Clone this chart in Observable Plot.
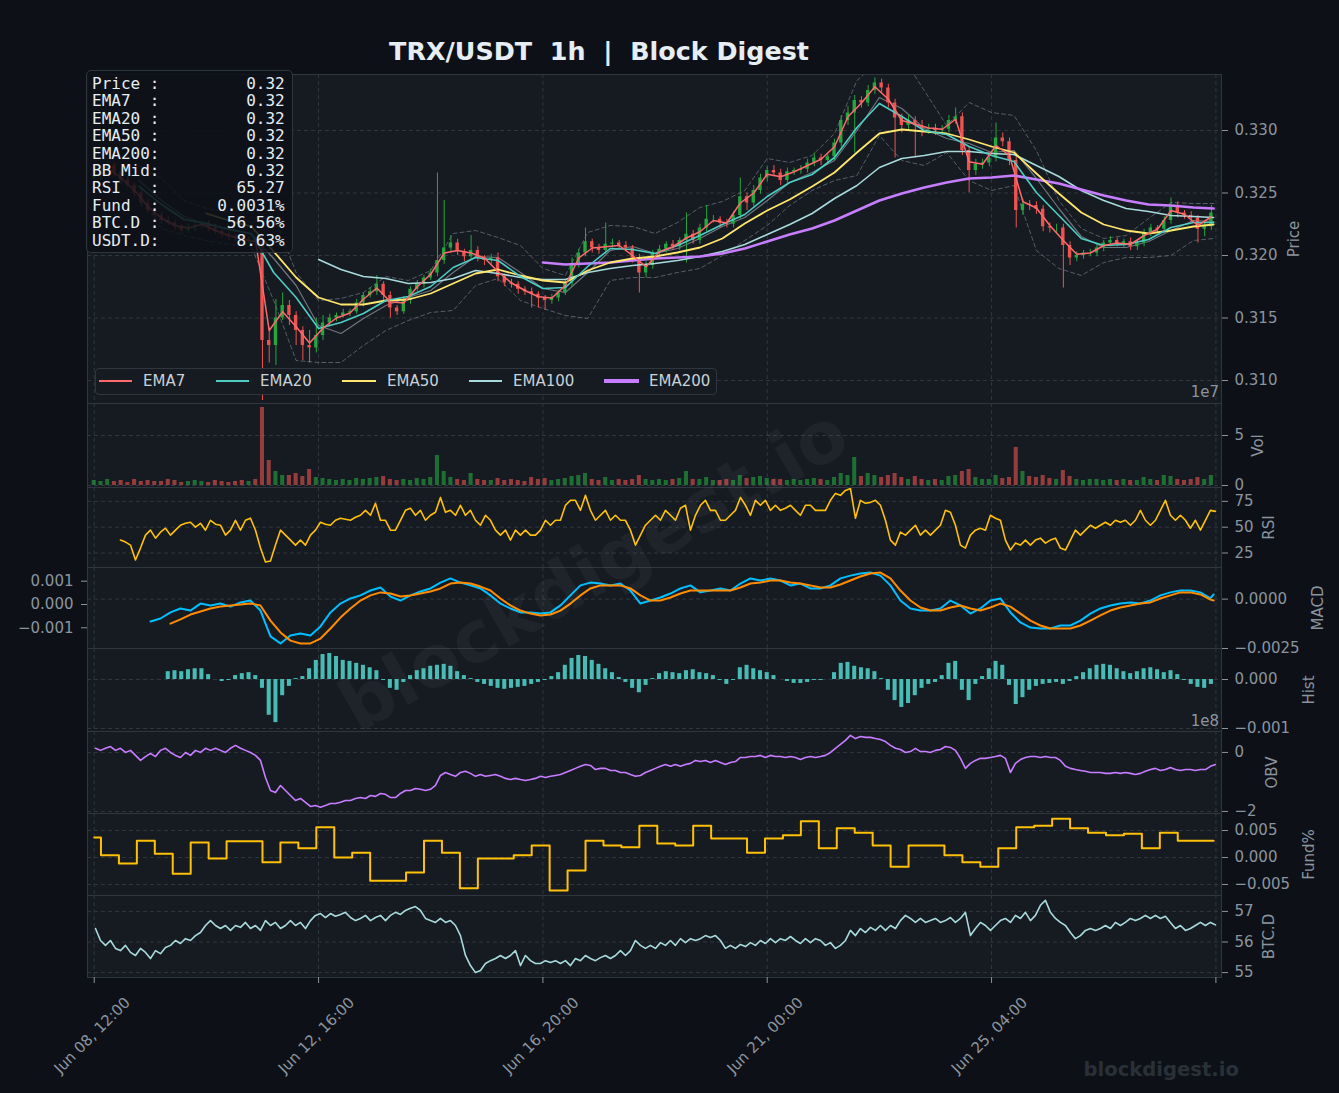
<!DOCTYPE html>
<html><head><meta charset="utf-8">
<script src="https://cdn.jsdelivr.net/npm/d3@7"></script>
<script src="https://cdn.jsdelivr.net/npm/@observablehq/plot@0.6"></script>
<style>
html,body{margin:0;padding:0;background:#0d1117;}
#root{position:relative;width:1339px;height:1093px;background:#0d1117;overflow:hidden;font-family:"DejaVu Sans",sans-serif;}
.title{position:absolute;left:0;top:37px;width:1198px;text-align:center;font:bold 25.4px/29px "DejaVu Sans",sans-serif;color:#e6edf3;}
.info{position:absolute;left:86px;top:70px;width:207px;height:183px;box-sizing:border-box;border:1px solid #30363d;border-radius:5px;background:rgba(13,17,23,0.86);padding:4px 0 0 5px;}
.info pre{margin:0;font:16px/17.4px "DejaVu Sans Mono",monospace;color:#e6edf3;}
.legend{position:absolute;left:95px;top:368px;width:622px;height:27px;box-sizing:border-box;border:1px solid #30363d;border-radius:4px;background:rgba(22,27,34,0.92);}
.legend .ln{position:absolute;height:2px;}
.legend .lb{position:absolute;top:5px;font:15px/15px "DejaVu Sans",sans-serif;color:#c9d1d9;white-space:nowrap;}
.offs{position:absolute;right:120px;font:15px/17px "DejaVu Sans",sans-serif;color:#8b949e;}
.wm2{position:absolute;right:100px;top:1059px;font:bold 19.6px/22px "DejaVu Sans",sans-serif;color:#2a3038;}
</style></head>
<body><div id="root"></div>
<script>
// ---------------- DATA ----------------
const xTickHours = [0, 100, 200, 300, 400, 500];
const xTickLabels = ["Jun 08, 12:00", "Jun 12, 16:00", "Jun 16, 20:00", "Jun 21, 00:00", "Jun 25, 04:00"];

// 3-hour candles (index k -> hour 3k)
const candleStepHours = 3;
const firstOpen = 0.3262;
const closes = [
0.3264,0.3270,0.3272,0.3266,0.3260,0.3256,0.3250,0.3242,0.3236,0.3232,
0.3228,0.3226,0.3223,0.3220,0.3222,0.3224,0.3226,0.3222,0.3219,0.3217,
0.3215,0.3214,0.3212,0.3213,0.3211,0.3132,0.3128,0.3150,0.3160,0.3152,
0.3140,0.3128,0.3126,0.3136,0.3146,0.3150,0.3152,0.3154,0.3155,0.3162,
0.3168,0.3171,0.3177,0.3168,0.3158,0.3155,0.3164,0.3173,0.3177,0.3182,
0.3186,0.3196,0.3206,0.3210,0.3203,0.3199,0.3204,0.3198,0.3196,0.3198,
0.3183,0.3178,0.3177,0.3173,0.3171,0.3169,0.3166,0.3164,0.3166,0.3170,
0.3178,0.3193,0.3202,0.3211,0.3206,0.3204,0.3209,0.3210,0.3208,0.3206,
0.3198,0.3186,0.3192,0.3202,0.3205,0.3209,0.3207,0.3212,0.3217,0.3212,
0.3222,0.3229,0.3229,0.3226,0.3225,0.3232,0.3247,0.3242,0.3252,0.3262,
0.3268,0.3266,0.3260,0.3267,0.3268,0.3269,0.3274,0.3278,0.3276,0.3279,
0.3290,0.3308,0.3314,0.3324,0.3322,0.3332,0.3338,0.3334,0.3322,0.3310,
0.3304,0.3308,0.3304,0.3301,0.3302,0.3300,0.3301,0.3308,0.3311,0.3284,
0.3268,0.3273,0.3274,0.3278,0.3294,0.3291,0.3276,0.3236,0.3241,0.3240,
0.3237,0.3223,0.3222,0.3222,0.3208,0.3198,0.3200,0.3202,0.3202,0.3206,
0.3210,0.3212,0.3209,0.3211,0.3207,0.3210,0.3218,0.3222,0.3221,0.3228,
0.3240,0.3234,0.3232,0.3230,0.3221,0.3223,0.3234];
// wick extensions beyond the body, in units of 0.0001
const wickUp = [
3,2,3,2,2,3,2,2,3,2, 2,3,2,2,3,2,2,2,3,2, 2,2,3,2,2,1,10,15,10,4, 3,3,12,14,6,3,2,3,2,3,
2,3,7,2,3,2,3,2,3,2, 3,70,38,6,3,2,12,3,2,3, 4,2,3,2,2,3,2,2,3,2, 3,5,3,11,2,3,17,3,2,3,
2,3,3,2,3,2,3,2,17,3, 3,11,3,2,3,3,15,3,4,3, 3,4,3,3,2,3,3,4,3,2, 3,4,5,4,3,4,4,3,3,3,
3,4,3,4,3,3,3,4,7,3, 3,4,3,3,12,4,3,3,4,3, 3,3,3,3,3,3,3,2,3,3, 2,3,2,2,3,2,3,3,2,3,
6,3,2,3,2,3,6];
const wickDn = [
2,3,2,3,3,2,3,3,2,3, 3,2,3,3,2,3,3,3,2,3, 3,3,2,3,3,48,14,16,2,8, 12,12,12,4,4,3,3,2,3,2,
3,2,3,6,8,3,2,3,2,3, 2,3,3,3,3,4,3,3,4,3, 4,3,3,4,3,11,8,8,3,3, 2,3,3,3,4,3,3,3,4,3,
4,16,4,3,3,3,3,3,18,3, 3,3,3,4,3,3,3,6,3,3, 3,3,4,3,3,3,3,3,4,3, 3,3,4,32,4,3,3,4,4,32,
6,4,26,6,4,4,4,3,3,4, 18,4,4,3,3,4,4,14,4,4, 4,4,4,4,34,6,3,3,3,3, 3,3,2,3,3,3,3,3,3,3,
3,4,3,4,11,6,3];
// volume per candle, millions
const volumes = [
5,4,6,4,5,3,6,4,5,4, 4,6,5,3,4,5,4,3,5,4, 3,4,5,4,6,78,25,14,10,10, 12,9,16,8,7,6,5,6,5,7,
6,7,8,9,6,5,6,5,7,6, 8,30,14,8,6,5,12,6,5,5, 7,5,6,5,4,8,6,7,5,6, 7,9,10,12,6,5,8,5,6,5,
6,10,6,5,6,5,6,7,14,6, 6,8,5,5,6,5,10,7,8,9, 7,6,6,5,6,5,6,7,6,5, 8,12,10,28,9,12,10,8,10,12,
8,6,9,6,5,6,5,9,10,14, 16,8,6,6,10,7,8,38,14,9, 8,10,7,6,15,9,6,5,6,6, 5,6,5,6,5,5,8,6,5,10,
9,6,5,6,8,6,10];

// EMA7 every 6 hours from hour 6
const ema7Hours = d3.range(6, 499, 6);
const ema7 = [
0.3270,0.3262,0.3252,0.3239,0.3230,0.3224,0.3222,0.3225,0.3220,0.3216,
0.3213,0.3211,0.3140,0.3155,0.3143,0.3130,0.3142,0.3150,0.3154,0.3165,
0.3174,0.3163,0.3162,0.3175,0.3185,0.3202,0.3204,0.3202,0.3198,0.3187,
0.3178,0.3172,0.3167,0.3166,0.3176,0.3198,0.3206,0.3207,0.3208,0.3200,
0.3191,0.3203,0.3207,0.3214,0.3219,0.3228,0.3226,0.3242,0.3250,0.3265,
0.3263,0.3267,0.3272,0.3277,0.3287,0.3311,0.3322,0.3335,0.3325,0.3308,
0.3305,0.3302,0.3301,0.3309,0.3275,0.3273,0.3288,0.3280,0.3243,0.3238,
0.3224,0.3212,0.3201,0.3202,0.3208,0.3210,0.3209,0.3216,0.3221,0.3236,
0.3233,0.3224,0.3231];

// slower lines every 10 hours (0..490) plus hour 499; null = not yet defined
const lineHours = d3.range(0, 500, 10).concat([499]);
const lead = (n, a) => Array(n).fill(null).concat(a);
const ema20 = lead(2, [0.32552,0.32408,0.32288,0.32256,0.32208,0.32176,0.31864,0.31664,0.31416,0.31464,0.31536,0.3164,0.31672,0.31752,0.31904,0.31984,0.3196,0.31832,0.31736,0.31744,0.31912,0.32056,0.32048,0.32016,0.3208,0.3216,0.32248,0.32328,0.32472,0.32584,0.32648,0.32784,0.33024,0.33216,0.33112,0.3300,0.32968,0.32872,0.328,0.32752,0.32504,0.3232,0.32136,0.3208,0.32088,0.32128,0.32224,0.32264,0.32264]);
const ema50 = lead(5, [0.32336,0.3228,0.32232,0.32032,0.31824,0.31664,0.31608,0.31608,0.3164,0.31648,0.31696,0.31776,0.31856,0.31888,0.3184,0.318,0.31784,0.3188,0.31944,0.31976,0.31992,0.32024,0.32064,0.32136,0.32256,0.3236,0.32448,0.32552,0.32664,0.32824,0.32976,0.33008,0.32992,0.32976,0.32928,0.32872,0.32824,0.32656,0.32496,0.32344,0.32248,0.322,0.32176,0.322,0.32232,0.32248]);
const ema100 = lead(10, [0.31968,0.31888,0.31832,0.31816,0.31776,0.31784,0.31816,0.3188,0.31856,0.31824,0.31808,0.31808,0.31864,0.31896,0.3192,0.31936,0.3196,0.31992,0.32032,0.32088,0.32168,0.32248,0.32336,0.32456,0.3256,0.32704,0.32776,0.328,0.32832,0.32832,0.32816,0.32808,0.3272,0.32632,0.3252,0.3244,0.32376,0.32352,0.3232,0.32312,0.32304]);
const ema200 = lead(20, [0.31944,0.31928,0.31936,0.31944,0.3196,0.31976,0.31984,0.31992,0.32016,0.32056,0.32112,0.32168,0.32216,0.3228,0.3236,0.3244,0.32496,0.32544,0.32584,0.32616,0.32624,0.3264,0.32608,0.32576,0.32528,0.3248,0.3244,0.32408,0.324,0.32384,0.32376]);
const bbMid = lead(2, [0.326,0.3244,0.32312,0.32248,0.32216,0.32168,0.31976,0.3176,0.3144,0.31376,0.31496,0.316,0.31664,0.3172,0.31864,0.31992,0.31984,0.31864,0.31736,0.31704,0.31864,0.3204,0.32072,0.32016,0.32056,0.32136,0.32232,0.32304,0.3244,0.32584,0.32664,0.3276,0.33,0.33264,0.33176,0.33016,0.32936,0.32896,0.32824,0.3284,0.32616,0.32376,0.32152,0.32064,0.32064,0.32112,0.322,0.3228,0.32272]);
const bbUp = lead(2, [0.3272,0.32616,0.3244,0.32376,0.32344,0.32264,0.3232,0.31864,0.3164,0.31656,0.31704,0.31832,0.318,0.3188,0.32176,0.322,0.32144,0.3208,0.31896,0.3184,0.32184,0.3224,0.32232,0.32176,0.32264,0.32384,0.32432,0.3252,0.32776,0.32744,0.328,0.32976,0.334,0.3356,0.336,0.3332,0.3304,0.33224,0.33144,0.3312,0.3284,0.3244,0.32216,0.32136,0.3216,0.32296,0.32424,0.32416,0.32416]);
const bbLow = lead(2, [0.3248,0.32216,0.3216,0.3212,0.32088,0.32072,0.3164,0.3116,0.31144,0.31144,0.3128,0.314,0.3148,0.31544,0.3156,0.3176,0.31816,0.3164,0.31576,0.3152,0.31496,0.318,0.31824,0.31824,0.31864,0.31896,0.32,0.3212,0.3224,0.324,0.3252,0.326,0.3264,0.3296,0.3276,0.3272,0.32824,0.326,0.3252,0.3256,0.3204,0.31896,0.3184,0.31944,0.31984,0.31984,0.32,0.3212,0.32136]);

// sampled oscillators: sample spacing in hours
const sampleStep = 2.2287;
const rsiStart = 11.7;
const rsi = [
37.5,35.6,32.7,18.3,29.8,42.3,47.1,39.4,45.2,49.0, 42.3,47.1,51.9,53.8,54.8,50.0,53.8,47.1,56.7,52.9,
51.9,42.3,47.1,56.7,47.1,56.7,58.7,47.1,29.8,16.3, 17.3,32.7,47.1,42.3,37.5,32.7,37.5,32.7,42.3,47.1,
54.8,52.9,51.9,56.7,58.7,57.7,56.7,59.6,61.5,66.3, 61.5,73.1,56.7,56.7,47.1,47.1,56.7,66.3,68.3,61.5,
66.3,56.7,61.5,64.4,78.8,64.4,66.3,61.5,71.2,61.5, 66.3,56.7,51.9,61.5,56.7,47.1,42.3,47.1,37.5,47.1,
42.3,47.1,42.3,42.3,47.1,56.7,51.9,56.7,56.7,71.2, 76.0,76.0,66.3,80.8,66.3,56.7,61.5,66.3,56.7,61.5,
56.7,56.7,47.1,32.7,42.3,51.9,56.7,61.5,56.7,66.3, 61.5,56.7,68.3,71.2,47.1,61.5,71.2,76.0,66.3,66.3,
56.7,56.7,61.5,66.3,78.8,71.2,61.5,76.0,71.2,76.0, 66.3,71.2,66.3,68.3,71.2,66.3,61.5,71.2,71.2,66.3,
66.3,66.3,76.0,82.7,80.8,85.6,87.5,58.7,76.0,73.1, 74.0,76.0,71.2,56.7,37.5,32.7,45.2,42.3,47.1,51.9,
42.3,47.1,42.3,47.1,51.9,66.3,64.4,51.9,32.7,29.8, 42.3,47.1,49.0,47.1,61.5,58.7,56.7,37.5,27.9,34.6,
32.7,37.5,32.7,37.5,39.4,34.6,37.5,39.4,29.8,27.9, 37.5,47.1,42.3,47.1,51.9,49.0,51.9,54.8,51.9,56.7,
54.8,56.7,51.9,56.7,66.3,56.7,51.9,56.7,66.3,76.0, 61.5,56.7,61.5,56.7,49.0,56.7,47.1,56.7,66.3,65.3];

// MACD / signal, units of 0.001, every 4.4573 h
const macdStep = 4.4573, macdStart = 25.07, signalStart = 33.99;
const macd = [
-0.73,-0.60,-0.34,-0.17,-0.26,0.04,-0.04,0.04,-0.09,0.09,0.17,-0.26,-1.37,-1.67,-1.33,-1.24,-1.33,-0.94,-0.34,0.04,
0.26,0.39,0.60,0.73,0.34,0.17,0.39,0.56,0.69,0.94,1.12,0.94,0.82,0.69,0.39,0.04,-0.17,-0.34,-0.34,-0.39,
-0.34,-0.04,0.39,0.82,0.94,0.90,0.82,0.90,0.60,0.04,0.17,0.30,0.47,0.69,0.82,0.52,0.60,0.69,0.60,0.90,
1.12,1.03,1.12,1.03,0.82,0.90,0.69,0.69,0.82,1.12,1.24,1.33,1.37,1.24,0.82,0.17,-0.17,-0.26,-0.26,-0.17,
0.17,-0.04,-0.39,-0.17,0.17,0.26,-0.34,-0.77,-0.99,-1.03,-1.03,-0.90,-0.90,-0.69,-0.39,-0.17,-0.04,0.04,0.09,0.04,
0.17,0.39,0.52,0.60,0.60,0.52,0.26];
const signal = [
-0.82,-0.64,-0.43,-0.30,-0.17,-0.09,-0.04,0,0.04,-0.04,-0.69,-1.20,-1.55,-1.67,-1.67,-1.46,-1.03,-0.56,-0.17,0.17,
0.39,0.52,0.47,0.34,0.39,0.47,0.56,0.69,0.90,0.94,0.90,0.77,0.60,0.26,-0.04,-0.26,-0.39,-0.47,-0.43,-0.26,
0.04,0.39,0.69,0.82,0.82,0.82,0.69,0.39,0.17,0.17,0.30,0.47,0.60,0.60,0.60,0.60,0.60,0.73,0.90,0.94,
1.03,1.03,0.94,0.90,0.82,0.73,0.73,0.86,1.03,1.20,1.33,1.37,1.12,0.60,0.17,-0.13,-0.26,-0.26,-0.13,-0.04,
-0.17,-0.26,-0.13,0.04,-0.09,-0.39,-0.69,-0.90,-1.03,-1.03,-1.03,-0.90,-0.69,-0.47,-0.26,-0.13,-0.04,0.04,0.09,0.26,
0.39,0.52,0.52,0.43,0.21];
const macdEnd = {h: 499, macd: 0.43, signal: 0.17};

// MACD histogram, units of 0.0001, on candle index 11..166
const histFirstIndex = 11;
const hist = [
1.6,1.8,1.6,2.0,2.2,2.2,1.0,0,-0.4,-0.2, 0.8,1.2,1.4,0.8,-1.8,-7.3,-8.8,-3.3,-1.4,0.2,
0.6,2.2,3.9,5.1,5.3,4.7,3.9,3.7,3.3,2.9, 2.4,1.8,-0.2,-1.8,-2.2,-0.6,0.8,1.8,2.2,2.7,
2.9,3.1,2.7,1.6,0.8,0.2,-0.6,-1.0,-1.4,-1.8, -2.0,-1.8,-1.6,-1.4,-1.0,-0.6,-0.2,0.6,1.4,2.9,
4.3,4.9,4.7,3.9,3.1,2.2,1.4,0.4,-0.6,-1.8, -2.7,-1.2,0.2,1.2,1.6,1.4,1.2,1.8,2.0,1.4,
1.2,0.8,-0.2,-1.0,-0.2,2.4,2.9,2.2,1.8,1.4, 0.8,0,-0.4,-0.8,-0.8,-0.6,-0.2,-0.2,0,1.4,
3.3,3.5,2.7,2.4,2.2,1.6,0.2,-2.2,-4.3,-5.7, -4.9,-3.3,-1.8,-1.0,-0.6,0.8,3.3,3.7,-2.2,-4.3,
-1.0,0.6,2.2,3.7,2.9,-1.2,-5.1,-3.7,-2.2,-1.4, -1.0,-0.8,-0.6,-1.0,-0.4,0.6,1.4,2.2,2.9,3.1,
2.9,2.2,1.6,1.2,1.6,2.2,2.4,2.0,1.4,1.8, 1.0,-0.2,-1.0,-1.6,-1.8,-1.0];

// OBV (units of 1e8) and BTC dominance, same sampling from hour 0.56
const obvStart = 0.56;
const obv = [
0.14,0.07,0.14,0.20,0.07,0.14,0,0.07,-0.10,-0.27, -0.14,-0.03,-0.14,0.07,0.14,0,-0.10,-0.17,0,-0.10,
0.07,0,0.14,0.07,0.14,0.07,0,0.14,0.24,0.14, 0.07,0,-0.10,-0.27,-0.85,-1.29,-1.36,-1.12,-1.29,-1.46,
-1.63,-1.56,-1.69,-1.83,-1.80,-1.86,-1.80,-1.73,-1.73,-1.69, -1.63,-1.63,-1.56,-1.53,-1.56,-1.46,-1.49,-1.39,-1.42,-1.53,
-1.53,-1.39,-1.29,-1.29,-1.22,-1.25,-1.29,-1.25,-1.12,-0.78, -0.68,-0.75,-0.81,-0.68,-0.64,-0.71,-0.81,-0.75,-0.81,-0.78,
-0.75,-0.81,-0.88,-0.92,-0.88,-0.92,-0.95,-0.92,-0.88,-0.81, -0.85,-0.81,-0.78,-0.75,-0.68,-0.61,-0.54,-0.47,-0.41,-0.44,
-0.58,-0.54,-0.54,-0.61,-0.61,-0.68,-0.68,-0.75,-0.81,-0.78, -0.68,-0.61,-0.54,-0.47,-0.41,-0.47,-0.41,-0.47,-0.41,-0.37,
-0.27,-0.31,-0.27,-0.34,-0.27,-0.34,-0.41,-0.34,-0.31,-0.17, -0.17,-0.14,-0.14,-0.10,-0.17,-0.10,-0.14,-0.14,-0.17,-0.14,
-0.17,-0.24,-0.17,-0.14,-0.17,-0.14,-0.10,0,0.14,0.27, 0.41,0.58,0.47,0.54,0.51,0.51,0.47,0.44,0.37,0.24,
0.14,0.10,0,0.03,0.14,0.03,0.03,0,0.07,0.10, 0.20,0.17,0.07,-0.20,-0.54,-0.37,-0.27,-0.20,-0.20,-0.17,
-0.14,-0.10,-0.20,-0.68,-0.37,-0.24,-0.17,-0.14,-0.14,-0.17, -0.14,-0.17,-0.17,-0.27,-0.47,-0.54,-0.58,-0.61,-0.64,-0.68,
-0.68,-0.68,-0.71,-0.71,-0.68,-0.71,-0.68,-0.71,-0.75,-0.71, -0.64,-0.58,-0.54,-0.61,-0.58,-0.51,-0.58,-0.61,-0.58,-0.58,
-0.61,-0.58,-0.58,-0.47,-0.41];
const btcd = [
56.44,56.05,55.89,56.05,55.79,55.72,55.89,55.66,55.56,55.79, 55.66,55.46,55.72,55.62,55.82,55.89,56.05,55.95,56.11,56.05,
56.21,56.31,56.54,56.70,56.54,56.44,56.54,56.38,56.54,56.48, 56.64,56.44,56.54,56.38,56.70,56.54,56.64,56.44,56.54,56.70,
56.54,56.64,56.44,56.70,56.87,56.93,56.80,56.93,56.84,56.90, 56.97,56.80,56.70,56.77,56.87,56.70,56.80,56.87,56.70,56.87,
56.97,56.90,57.03,57.10,57.16,57.03,56.77,56.70,56.64,56.77, 56.64,56.70,56.54,56.21,55.56,55.23,55.00,55.07,55.30,55.39,
55.46,55.56,55.46,55.56,55.72,55.23,55.56,55.39,55.30,55.30, 55.39,55.33,55.39,55.30,55.39,55.23,55.46,55.39,55.56,55.46,
55.39,55.49,55.56,55.46,55.56,55.72,55.56,55.72,56.05,55.89, 55.79,55.89,55.79,55.98,55.89,56.05,55.89,56.11,55.98,56.11,
56.05,56.11,56.21,56.15,56.21,56.05,55.79,55.89,55.79,55.92, 55.85,55.98,55.89,56.05,55.95,56.11,55.98,56.11,56.05,56.18,
56.05,55.95,56.11,55.98,56.11,56.05,55.89,55.98,55.79,55.89, 56.05,56.38,56.21,56.44,56.31,56.48,56.38,56.54,56.38,56.54,
56.44,56.70,56.87,56.77,56.64,56.77,56.64,56.70,56.77,56.64, 56.70,56.80,56.64,56.77,56.97,56.21,56.44,56.64,56.54,56.38,
56.54,56.70,56.77,56.64,56.87,56.77,56.97,56.70,56.87,57.20, 57.36,56.97,56.77,56.64,56.54,56.31,56.11,56.21,56.38,56.44,
56.38,56.44,56.54,56.44,56.64,56.54,56.64,56.77,56.70,56.77, 56.87,56.77,56.87,56.77,56.84,56.64,56.44,56.54,56.38,56.44,
56.54,56.64,56.54,56.64,56.56];

// funding rate (%), 8-hour periods: period 0 starts at hour 0, period n at hour 8n-5
const funding = [
0.0037,0.0004,-0.0011,0.0031,0.0007,-0.0030,0.0028,-0.0002,0.0030,0.0030,
-0.0009,0.0028,0.0017,0.0056,0,0.0009,-0.0043,-0.0043,-0.0028,0.0031,
0.0009,-0.0057,-0.0002,-0.0002,0.0004,0.0022,-0.0061,-0.0024,0.0031,0.0022,
0.0019,0.0059,0.0026,0.0022,0.0059,0.0035,0.0035,0.0009,0.0035,0.0041,
0.0067,0.0017,0.0054,0.0046,0.0022,-0.0017,0.0022,0.0022,0.0004,-0.0009,
-0.0017,0.0017,0.0056,0.0059,0.0072,0.0054,0.0046,0.0041,0.0044,0.0017,
0.0046,0.0031];

const infoRows = [["Price :", "0.32"], ["EMA7  :", "0.32"], ["EMA20 :", "0.32"], ["EMA50 :", "0.32"], ["EMA200:", "0.32"],
  ["BB Mid:", "0.32"], ["RSI   :", "65.27"], ["Fund  :", "0.0031%"], ["BTC.D :", "56.56%"], ["USDT.D:", "8.63%"]];
const legendItems = ["EMA7", "EMA20", "EMA50", "EMA100", "EMA200"];

// ---------------- STYLE ----------------
const C = {panel: "#161b22", border: "#30363d", grid: "#30363d", tick: "#8b949e",
  up: "#26a641", down: "#ef5350", ema7: "#ff6b6b", ema20: "#4ecdc4", ema50: "#ffe66d", ema100: "#a8dadc", ema200: "#c77dff",
  bb: "#8b949e", rsi: "#ffc107", macd: "#00bfff", signal: "#ff8c00", hist: "#4ecdc4", obv: "#c77dff", fund: "#ffc107", btcd: "#a8dadc"};
const W = 1339, ML = 87, MR = 118, X_DOMAIN = [-3, 502.5];

// ---------------- BUILD ----------------
const candles = closes.map((c, k) => {
  const o = k === 0 ? firstOpen : closes[k - 1];
  return {h: k * candleStepHours, open: o, close: c,
    high: Math.max(o, c) + wickUp[k] * 1e-4, low: Math.min(o, c) - wickDn[k] * 1e-4, vol: volumes[k], up: c >= o};
});
const ups = candles.filter(d => d.up), downs = candles.filter(d => !d.up);
const lines = lineHours.map((h, i) => ({h, e20: ema20[i], e50: ema50[i], e100: ema100[i], e200: ema200[i], mid: bbMid[i], up: bbUp[i], low: bbLow[i]}));
const e7 = ema7Hours.map((h, i) => ({h, v: ema7[i]}));
const rsiData = rsi.map((v, i) => ({h: rsiStart + i * sampleStep, v}));
const macdData = macd.map((v, i) => ({h: macdStart + i * macdStep, v: v * 1e-3})).concat([{h: macdEnd.h, v: macdEnd.macd * 1e-3}]);
const sigData = signal.map((v, i) => ({h: signalStart + i * macdStep, v: v * 1e-3})).concat([{h: macdEnd.h, v: macdEnd.signal * 1e-3}]);
const histData = hist.map((v, i) => ({h: (histFirstIndex + i) * candleStepHours, v: v * 1e-4}));
const obvData = obv.map((v, i) => ({h: obvStart + i * sampleStep, v}));
const btcData = btcd.map((v, i) => ({h: obvStart + i * sampleStep, v}));
const fundData = funding.map((v, n) => ({h: n === 0 ? 0 : 8 * n - 5, v})).concat([{h: 499, v: funding[funding.length - 1]}]);

const root = document.getElementById("root");
function addPlot(top, height, yDomain, marks, mb = 0) {
  const svg = Plot.plot({
    width: W, height: height + mb, marginLeft: ML, marginRight: MR, marginTop: 0, marginBottom: mb,
    x: {type: "linear", domain: X_DOMAIN, axis: null},
    y: {type: "linear", domain: yDomain, axis: null},
    style: {background: "transparent", color: C.tick, fontFamily: "DejaVu Sans, sans-serif", fontSize: "15px", overflow: "visible"},
    marks
  });
  svg.style.position = "absolute"; svg.style.left = "0px"; svg.style.top = top + "px";
  root.appendChild(svg);
}
const bg = () => Plot.frame({fill: C.panel, stroke: "none"});
const border = () => Plot.frame({stroke: C.border, fill: "none"});
const vgrid = () => Plot.ruleX(xTickHours, {stroke: C.grid, strokeDasharray: "4,3"});
const hgrid = t => Plot.ruleY(t, {stroke: C.grid, strokeDasharray: "4,3"});
const rAxis = (t, fmt) => Plot.axisY(t, {anchor: "right", tickSize: 6, tickPadding: 7, tickFormat: fmt, label: null, fontSize: 15});
const yLabel = (s, dx) => Plot.text([s], {frameAnchor: "right", dx, rotate: -90, textAnchor: "middle", lineAnchor: "middle", fill: C.tick, fontSize: 15});
const f3 = d3.format(".3f"), f4 = d3.format(".4f");
const BODY = 0.75, VBAR = 0.9, HBAR = 0.9;

// Price
const priceTicks = [0.31, 0.315, 0.32, 0.325, 0.33];
addPlot(74, 329, [0.30816, 0.33448], [
  bg(), hgrid(priceTicks), vgrid(),
  Plot.line(lines, {x: "h", y: "up", stroke: C.bb, strokeOpacity: 0.55, strokeWidth: 1, strokeDasharray: "4,3", clip: true}),
  Plot.line(lines, {x: "h", y: "low", stroke: C.bb, strokeOpacity: 0.55, strokeWidth: 1, strokeDasharray: "4,3", clip: true}),
  Plot.line(lines, {x: "h", y: "mid", stroke: C.bb, strokeOpacity: 0.75, strokeWidth: 1.2}),
  Plot.ruleX(ups, {x: "h", y1: "low", y2: "high", stroke: C.up, strokeWidth: 1}),
  Plot.ruleX(downs, {x: "h", y1: "low", y2: "high", stroke: C.down, strokeWidth: 1}),
  Plot.rect(ups, {x1: d => d.h - BODY, x2: d => d.h + BODY, y1: "open", y2: "close", fill: C.up}),
  Plot.rect(downs, {x1: d => d.h - BODY, x2: d => d.h + BODY, y1: "open", y2: "close", fill: C.down}),
  Plot.line(lines, {x: "h", y: "e100", stroke: C.ema100, strokeWidth: 1.6}),
  Plot.line(lines, {x: "h", y: "e200", stroke: C.ema200, strokeWidth: 2.6}),
  Plot.line(lines, {x: "h", y: "e50", stroke: C.ema50, strokeWidth: 1.8}),
  Plot.line(lines, {x: "h", y: "e20", stroke: C.ema20, strokeWidth: 1.6}),
  Plot.line(e7, {x: "h", y: "v", stroke: C.ema7, strokeWidth: 1.5}),
  rAxis(priceTicks, f3), yLabel("Price", 73), border()
]);
// Volume
addPlot(403, 84, [-2, 82], [
  bg(), hgrid([0, 50]), vgrid(),
  Plot.rect(ups, {x1: d => d.h - VBAR, x2: d => d.h + VBAR, y1: 0, y2: "vol", fill: C.up, fillOpacity: 0.6}),
  Plot.rect(downs, {x1: d => d.h - VBAR, x2: d => d.h + VBAR, y1: 0, y2: "vol", fill: C.down, fillOpacity: 0.6}),
  rAxis([0, 50], d => String(d / 10)), yLabel("Vol", 37), border()
]);
// RSI
addPlot(487, 80, [11.0, 88.4], [
  bg(), hgrid([25, 50, 75]), vgrid(),
  Plot.line(rsiData, {x: "h", y: "v", stroke: C.rsi, strokeWidth: 1.6}),
  rAxis([25, 50, 75], d => String(d)), yLabel("RSI", 48), border()
]);
// MACD (right axis scale + grid)
addPlot(567, 81, [-0.0025, 0.0016], [
  bg(), hgrid([0, -0.0025]), vgrid(),
  rAxis([0, -0.0025], f4), yLabel("MACD", 97), border()
]);
// MACD lines (left axis scale)
addPlot(567, 81, [-0.001888, 0.001588], [
  Plot.line(macdData, {x: "h", y: "v", stroke: C.macd, strokeWidth: 2}),
  Plot.line(sigData, {x: "h", y: "v", stroke: C.signal, strokeWidth: 2}),
  Plot.axisY([0.001, 0, -0.001], {anchor: "left", tickSize: 6, tickPadding: 8, tickFormat: f3, label: null, fontSize: 15})
]);
// Histogram
addPlot(648, 83, [-0.001061, 0.000633], [
  bg(), hgrid([0, -0.001]), vgrid(),
  Plot.rect(histData, {x1: d => d.h - HBAR, x2: d => d.h + HBAR, y1: 0, y2: "v", fill: C.hist, fillOpacity: 0.9}),
  rAxis([0, -0.001], f3), yLabel("Hist", 88), border()
]);
// OBV
addPlot(731, 82, [-2.07, 0.71], [
  bg(), hgrid([0, -2]), vgrid(),
  Plot.line(obvData, {x: "h", y: "v", stroke: C.obv, strokeWidth: 1.6}),
  rAxis([0, -2], d3.format("d")), yLabel("OBV", 51), border()
]);
// Funding
addPlot(813, 82, [-0.00704, 0.00815], [
  bg(), hgrid([0.005, 0, -0.005]), vgrid(),
  Plot.line(fundData, {x: "h", y: "v", stroke: C.fund, strokeWidth: 2, curve: "step-after"}),
  rAxis([0.005, 0, -0.005], f3), yLabel("Fund%", 88), border()
]);
// BTC dominance + time axis
addPlot(895, 82, [54.84, 57.52], [
  bg(), hgrid([55, 56, 57]), vgrid(),
  Plot.line(btcData, {x: "h", y: "v", stroke: C.btcd, strokeWidth: 1.6}),
  rAxis([55, 56, 57], d3.format("d")), yLabel("BTC.D", 48), border(),
  Plot.axisX(xTickHours, {anchor: "bottom", tickSize: 6, tickFormat: () => "", label: null}),
  Plot.text(xTickHours.slice(0, 5), {x: d => d, text: (d, i) => xTickLabels[i], frameAnchor: "bottom", dx: -2, dy: 58,
    rotate: -45, textAnchor: "middle", lineAnchor: "middle", fill: C.tick, fontSize: 15})
], 116);

// ---------------- HTML overlays ----------------
const title = document.createElement("div");
title.className = "title"; title.textContent = "TRX/USDT  1h  |  Block Digest";
title.style.whiteSpace = "pre";
root.appendChild(title);

const info = document.createElement("div");
info.className = "info";
const pre = document.createElement("pre");
pre.textContent = infoRows.map(([k, v]) => k + v.padStart(13)).join("\n");
info.appendChild(pre);
root.appendChild(info);

const legend = document.createElement("div");
legend.className = "legend";
const legendColors = [C.ema7, C.ema20, C.ema50, C.ema100, C.ema200];
const legLine = [[3, 33], [120, 33], [246, 34], [373, 33], [508, 35]];
const legText = [47, 164, 291, 417, 553];
legendItems.forEach((name, i) => {
  const ln = document.createElement("div");
  ln.className = "ln";
  const th = i === 4 ? 3.5 : 2;
  ln.style.cssText = `left:${legLine[i][0]}px;width:${legLine[i][1]}px;top:${12 - th / 2}px;height:${th}px;background:${legendColors[i]};`;
  const lb = document.createElement("div");
  lb.className = "lb"; lb.style.left = legText[i] + "px"; lb.textContent = name;
  legend.appendChild(ln); legend.appendChild(lb);
});
root.appendChild(legend);

const off1 = document.createElement("div"); off1.className = "offs"; off1.style.top = "384px"; off1.textContent = "1e7"; root.appendChild(off1);
const off2 = document.createElement("div"); off2.className = "offs"; off2.style.top = "713px"; off2.textContent = "1e8"; root.appendChild(off2);

const wm = document.createElementNS("http://www.w3.org/2000/svg", "svg");
wm.setAttribute("width", W); wm.setAttribute("height", 1093);
wm.style.cssText = "position:absolute;left:0;top:0;pointer-events:none;";
wm.innerHTML = '<text x="596" y="574" transform="rotate(-30 596 574)" text-anchor="middle" dominant-baseline="middle" font-family="DejaVu Sans" font-weight="bold" font-size="72" fill="#ffffff" fill-opacity="0.04">blockdigest.io</text>';
root.appendChild(wm);

const wm2 = document.createElement("div"); wm2.className = "wm2"; wm2.textContent = "blockdigest.io"; root.appendChild(wm2);
</script>
</body></html>
